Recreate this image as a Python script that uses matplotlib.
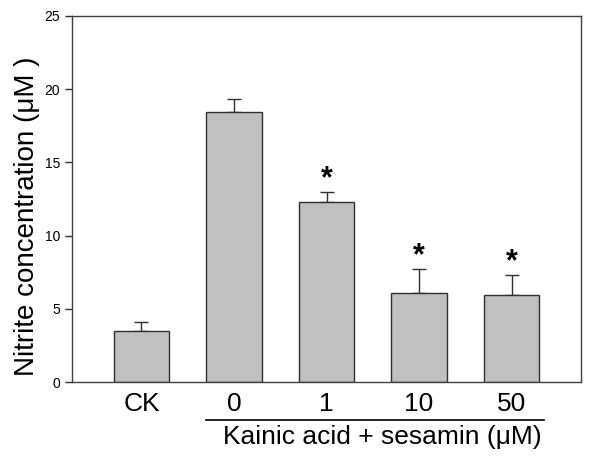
import matplotlib.pyplot as plt
import numpy as np

plt.rcParams['font.family'] = ['Liberation Sans', 'DejaVu Sans']

# Data
groups = ['CK', '0', '1', '10', '50']
means = [3.5, 18.42, 12.3, 6.08, 5.92]
errors = [0.6, 0.93, 0.65, 1.66, 1.39]
significant = [False, False, True, True, True]

fig = plt.figure(figsize=(6, 4.62), dpi=100)
ax = fig.add_axes([72 / 600, 1 - 382 / 462, 509 / 600, 366 / 462])

x = np.arange(len(groups))
ax.bar(x, means, width=0.6, color='#c0c0c0', edgecolor='#303030', linewidth=1.0, zorder=2)
ax.errorbar(x, means, yerr=[np.zeros(len(errors)), errors], fmt='none',
            ecolor='#303030', elinewidth=1.0, capsize=5, capthick=1.0, zorder=1)

for xi, m, e, s in zip(x, means, errors, significant):
    if s:
        ax.text(xi, m + e - 0.15, '*', ha='center', va='bottom', fontsize=22,
                fontweight='bold')

ax.set_xlim(-0.75, 4.75)
ax.set_ylim(0, 25)
ax.set_yticks([0, 5, 10, 15, 20, 25])
ax.tick_params(axis='y', labelsize=10, length=5, width=1, color='#303030', direction='out')
ax.set_xticks(x)
ax.set_xticklabels(groups, fontsize=19)
ax.tick_params(axis='x', length=0, pad=7)
for sp in ax.spines.values():
    sp.set_color('#404040')
    sp.set_linewidth(1.0)

ax.set_ylabel('Nitrite concentration (μM )', fontsize=20)
ax.yaxis.set_label_coords(-0.063, 0.4536)

# group underline and label below the treatment bars
ax.plot([0.7, 4.35], [-2.6, -2.6], color='black', linewidth=1.2, clip_on=False,
        transform=ax.transData)
ax.text(2.6, -3.75, 'Kainic acid + sesamin (μM)', ha='center', va='center',
        fontsize=19, transform=ax.transData)

fig.savefig('out.png', dpi=100)
